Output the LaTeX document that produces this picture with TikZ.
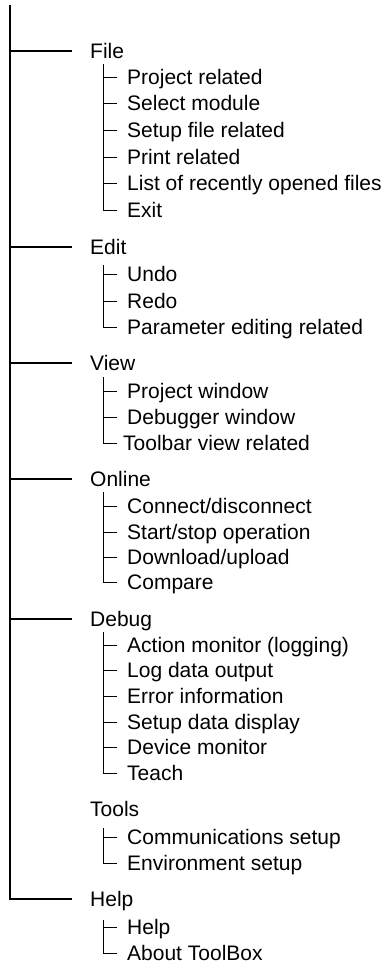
\documentclass[tikz,border=0pt]{standalone}
\usepackage{fontspec}
\setmainfont{Liberation Sans}
\begin{document}
\begin{tikzpicture}[x=1pt,y=-1pt,
  lbl/.style={anchor=west,inner sep=0pt,text height=15pt,text depth=0pt,font=\fontsize{21}{24}\selectfont},
  trunk/.style={line width=2.4pt},
  twig/.style={line width=0.9pt},
  mainlink/.style={trunk,shorten >=18pt},
  sublink/.style={twig,shorten >=10pt}]
\useasboundingbox (0,0) rectangle (385,965);
% main labels
\node[lbl] (file) at (90,51) {File};
\node[lbl] (edit) at (90,247) {Edit};
\node[lbl] (view) at (90,363) {View};
\node[lbl] (online) at (90,479) {Online};
\node[lbl] (debug) at (90,619) {Debug};
\node[lbl] (tools) at (90,809) {Tools};
\node[lbl] (help) at (90,899) {Help};
% File items
\node[lbl] (f1) at (127,77) {Project related};
\node[lbl] (f2) at (127,103) {Select module};
\node[lbl] (f3) at (127,130) {Setup file related};
\node[lbl] (f4) at (127,157) {Print related};
\node[lbl] (f5) at (127,183) {List of recently opened files};
\node[lbl] (f6) at (127,210) {Exit};
% Edit items
\node[lbl] (e1) at (127,274) {Undo};
\node[lbl] (e2) at (127,301) {Redo};
\node[lbl] (e3) at (127,327) {Parameter editing related};
% View items
\node[lbl] (v1) at (127,391) {Project window};
\node[lbl] (v2) at (127,417) {Debugger window};
\node[lbl] (v3) at (123,443) {Toolbar view related};
% Online items
\node[lbl] (o1) at (127,506) {Connect/disconnect};
\node[lbl] (o2) at (127,532) {Start/stop operation};
\node[lbl] (o3) at (127,557) {Download/upload};
\node[lbl] (o4) at (127,582) {Compare};
% Debug items
\node[lbl] (d1) at (127,645) {Action monitor (logging)};
\node[lbl] (d2) at (127,670) {Log data output};
\node[lbl] (d3) at (127,696) {Error information};
\node[lbl] (d4) at (127,722) {Setup data display};
\node[lbl] (d5) at (127,747) {Device monitor};
\node[lbl] (d6) at (127,773) {Teach};
% Tools items
\node[lbl] (t1) at (127,837) {Communications setup};
\node[lbl] (t2) at (127,863) {Environment setup};
% Help items
\node[lbl] (h1) at (127,927) {Help};
\node[lbl] (h2) at (127,953) {About ToolBox};
% main trunk
\coordinate (top) at (10,5);
\draw[mainlink] (top) |- (help.west);
\foreach \n in {file,edit,view,online,debug}
  \draw[mainlink] (top |- \n.west) -- (\n.west);
% sub trees
\coordinate (fs) at (103,64);
\draw[sublink] (fs) |- (f6.west);
\foreach \n in {f1,f2,f3,f4,f5} \draw[sublink] (fs |- \n.west) -- (\n.west);
\coordinate (es) at (103,265);
\draw[sublink] (es) |- (e3.west);
\foreach \n in {e1,e2} \draw[sublink] (es |- \n.west) -- (\n.west);
\coordinate (vs) at (103,377);
\draw[twig,shorten >=6pt] (vs) |- (v3.west);
\foreach \n in {v1,v2} \draw[sublink] (vs |- \n.west) -- (\n.west);
\coordinate (os) at (103,492);
\draw[sublink] (os) |- (o4.west);
\foreach \n in {o1,o2,o3} \draw[sublink] (os |- \n.west) -- (\n.west);
\coordinate (ds) at (103,632);
\draw[sublink] (ds) |- (d6.west);
\foreach \n in {d1,d2,d3,d4,d5} \draw[sublink] (ds |- \n.west) -- (\n.west);
\coordinate (ts) at (103,828);
\draw[sublink] (ts) |- (t2.west);
\draw[sublink] (ts |- t1.west) -- (t1.west);
\coordinate (hs) at (103,920);
\draw[sublink] (hs) |- (h2.west);
\draw[sublink] (hs |- h1.west) -- (h1.west);
\end{tikzpicture}
\end{document}
